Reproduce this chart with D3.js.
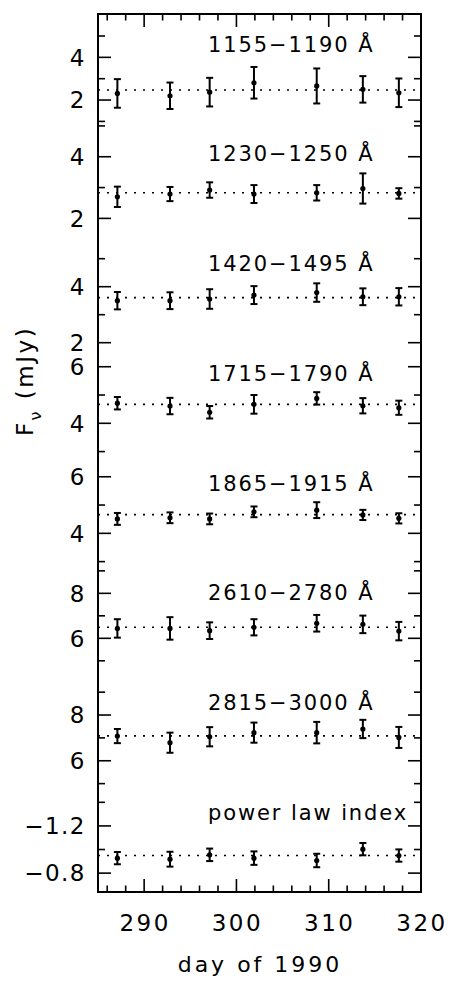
<!DOCTYPE html>
<html>
<head>
  <meta charset="UTF-8">
  <style>
    body { margin: 0; background: white; }
    svg text { font-family: "DejaVu Sans", sans-serif; fill: #000; }
  </style>
</head>
<body>
<svg></svg>
<script src="https://d3js.org/d3.v7.min.js"></script>
<script>
let width = 450, height = 989;

// observation days (same for every band)
const days = [287.1, 292.8, 297.1, 301.9, 308.7, 313.7, 317.6];

const bandLabels = ["1155\u22121190 \u00c5", "1230\u22121250 \u00c5", "1420\u22121495 \u00c5",
  "1715\u22121790 \u00c5", "1865\u22121915 \u00c5", "2610\u22122780 \u00c5",
  "2815\u22123000 \u00c5", "power law index"];

// fluxes (mJy) and 1-sigma errors
const f1155 = [2.31, 2.20, 2.37, 2.81, 2.66, 2.50, 2.34];
const e1155 = [0.67, 0.62, 0.67, 0.74, 0.82, 0.62, 0.67];
const f1230 = [2.70, 2.79, 2.92, 2.79, 2.83, 2.97, 2.81];
const e1230 = [0.33, 0.23, 0.25, 0.29, 0.25, 0.49, 0.17];
const f1420 = [3.50, 3.50, 3.56, 3.70, 3.79, 3.64, 3.64];
const e1420 = [0.31, 0.30, 0.35, 0.32, 0.33, 0.30, 0.31];
const f1715 = [4.71, 4.61, 4.39, 4.67, 4.88, 4.62, 4.55];
const e1715 = [0.22, 0.29, 0.22, 0.33, 0.22, 0.27, 0.25];
const f1865 = [4.51, 4.55, 4.51, 4.76, 4.82, 4.65, 4.53];
const e1865 = [0.21, 0.19, 0.19, 0.19, 0.28, 0.18, 0.18];
const f2610 = [6.44, 6.44, 6.34, 6.49, 6.67, 6.62, 6.32];
const e2610 = [0.41, 0.50, 0.37, 0.36, 0.37, 0.39, 0.41];
const f2815 = [7.08, 6.79, 7.05, 7.23, 7.23, 7.39, 7.02];
const e2815 = [0.31, 0.44, 0.42, 0.44, 0.47, 0.40, 0.46];
const alpha = [-0.927, -0.918, -0.955, -0.927, -0.907, -1.003, -0.949];
const eAlpha = [0.052, 0.063, 0.053, 0.057, 0.057, 0.052, 0.052];

// dotted mean level in each panel
const means = [2.47, 2.83, 3.61, 4.67, 4.66, 6.49, 7.09, -0.949];

// y range of each panel: [value at top, value at bottom]
const yDomains = [[6.03, 0.89], [5.07, 1.51], [5.9, 1.98], [6.83, 2.95],
  [6.84, 2.96], [9.36, 4.48], [9.86, 5.06], [-1.57, -0.64]];
const majorTicks = [[2, 4], [2, 4], [2, 4], [4, 6], [4, 6], [6, 8], [6, 8], [-1.2, -0.8]];
const minorTicks = [[1, 3, 5], [3, 5], [3, 5], [3, 5], [3, 5], [5, 7, 9], [5, 7, 9], [-1.4, -1.0]];

const xMajor = [290, 300, 310, 320];
const xMinor = d3.range(286, 320, 2).filter(d => d % 10 !== 0);

const values = [f1155, f1230, f1420, f1715, f1865, f2610, f2815, alpha];
const errors = [e1155, e1230, e1420, e1715, e1865, e2610, e2815, eAlpha];

const mLeft = 98, mRight = 421, mTop = 14, mBottom = 892;
const panelH = (mBottom - mTop) / 8;

let svg = d3.select("svg")
    .attr("width", width)
    .attr("height", height);

svg.append("rect").attr("width", width).attr("height", height).attr("fill", "white");

const x = d3.scaleLinear().domain([285, 320]).range([mLeft, mRight]);

const fmt = d => (d < 0 ? "\u2212" : "") + (Number.isInteger(d) ? Math.abs(d) : Math.abs(d).toFixed(1));

values.forEach((vals, p) => {
    const y0 = mTop + p * panelH;
    const y = d3.scaleLinear().domain(yDomains[p]).range([y0, y0 + panelH]);
    const g = svg.append("g");

    // y ticks, both sides
    const ticks = majorTicks[p].map(v => ({v, len: 13}))
        .concat(minorTicks[p].map(v => ({v, len: 7})));
    g.selectAll("line.tl").data(ticks).join("line").attr("class", "tl")
        .attr("x1", mLeft).attr("x2", d => mLeft + d.len)
        .attr("y1", d => y(d.v)).attr("y2", d => y(d.v))
        .attr("stroke", "#000").attr("stroke-width", 1.6);
    g.selectAll("line.tr").data(ticks).join("line").attr("class", "tr")
        .attr("x1", mRight).attr("x2", d => mRight - d.len)
        .attr("y1", d => y(d.v)).attr("y2", d => y(d.v))
        .attr("stroke", "#000").attr("stroke-width", 1.6);

    g.selectAll("text.yl").data(majorTicks[p]).join("text").attr("class", "yl")
        .attr("x", 86).attr("y", d => y(d))
        .attr("dy", "0.36em")
        .attr("text-anchor", "end")
        .style("font-size", "23px")
        .style("letter-spacing", "1.5px")
        .text(fmt);

    // dotted mean line
    g.append("line")
        .attr("x1", mLeft).attr("x2", mRight)
        .attr("y1", y(means[p])).attr("y2", y(means[p]))
        .attr("stroke", "#000").attr("stroke-width", 1.6)
        .attr("stroke-dasharray", "2 7");

    const pts = vals.map((v, i) => ({d: days[i], v, e: errors[p][i]}));

    // error bars
    g.selectAll("line.eb").data(pts).join("line").attr("class", "eb")
        .attr("x1", d => x(d.d)).attr("x2", d => x(d.d))
        .attr("y1", d => y(d.v - d.e)).attr("y2", d => y(d.v + d.e))
        .attr("stroke", "#000").attr("stroke-width", 2);
    g.selectAll("line.cap1").data(pts).join("line").attr("class", "cap1")
        .attr("x1", d => x(d.d) - 3.5).attr("x2", d => x(d.d) + 3.5)
        .attr("y1", d => y(d.v - d.e)).attr("y2", d => y(d.v - d.e))
        .attr("stroke", "#000").attr("stroke-width", 2);
    g.selectAll("line.cap2").data(pts).join("line").attr("class", "cap2")
        .attr("x1", d => x(d.d) - 3.5).attr("x2", d => x(d.d) + 3.5)
        .attr("y1", d => y(d.v + d.e)).attr("y2", d => y(d.v + d.e))
        .attr("stroke", "#000").attr("stroke-width", 2);
    g.selectAll("circle").data(pts).join("circle")
        .attr("cx", d => x(d.d)).attr("cy", d => y(d.v))
        .attr("r", 2.6).attr("fill", "#000");

    g.append("text")
        .attr("x", 208).attr("y", y0 + 37.5)
        .style("font-size", "21px")
        .style("letter-spacing", "1.9px")
        .text(bandLabels[p]);
});

// x ticks top and bottom
const xt = xMajor.map(v => ({v, len: 13})).concat(xMinor.map(v => ({v, len: 6.5})));
[[mBottom, -1], [mTop, 1]].forEach(([yy, dir]) => {
    svg.append("g").selectAll("line").data(xt).join("line")
        .attr("x1", d => x(d.v)).attr("x2", d => x(d.v))
        .attr("y1", yy).attr("y2", d => yy + dir * d.len)
        .attr("stroke", "#000").attr("stroke-width", 1.6);
});

svg.append("g").selectAll("text").data(xMajor).join("text")
    .attr("x", d => x(d) + 1).attr("y", 931)
    .attr("text-anchor", "middle")
    .style("font-size", "23px")
    .style("letter-spacing", "2.5px")
    .text(d => d);

// frame
svg.append("rect")
    .attr("x", mLeft).attr("y", mTop)
    .attr("width", mRight - mLeft).attr("height", mBottom - mTop)
    .attr("fill", "none").attr("stroke", "#000").attr("stroke-width", 2);

svg.append("text")
    .attr("x", 260).attr("y", 972)
    .attr("text-anchor", "middle")
    .style("font-size", "22px")
    .style("letter-spacing", "3px")
    .text("day of 1990");

const yt = svg.append("text")
    .attr("transform", "translate(33,381) rotate(-90)")
    .attr("text-anchor", "middle")
    .style("font-size", "23px")
    .style("letter-spacing", "2.5px");
yt.append("tspan").text("F");
yt.append("tspan").attr("dy", 8).style("font-size", "16px").text("\u03bd");
yt.append("tspan").attr("dy", -8).text(" (mJy)");
</script>
</body>
</html>
